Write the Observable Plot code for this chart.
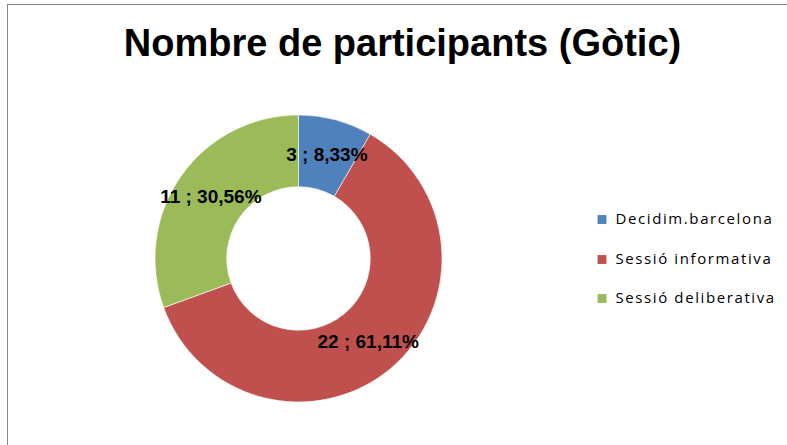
<!DOCTYPE html>
<html>
<head>
<meta charset="utf-8">
<script src="https://cdn.jsdelivr.net/npm/d3@7"></script>
<script src="https://cdn.jsdelivr.net/npm/@observablehq/plot@0.6"></script>
<style>
  html, body { margin: 0; padding: 0; background: #fff; width: 787px; height: 445px; overflow: hidden; }
  #frame { position: absolute; left: 7px; top: 3.5px; width: 800px; height: 460px;
           border-left: 1.5px solid #898989; border-top: 1.5px solid #898989; box-sizing: border-box; }
  #chart { position: absolute; left: 0; top: 0; }
  .legend-text text { letter-spacing: 1.6px; }
</style>
</head>
<body>
<div id="frame"></div>
<div id="chart"></div>
<script>
const title = "Nombre de participants (Gòtic)";
const categories = ["Decidim.barcelona", "Sessió informativa", "Sessió deliberativa"];
const values = [3, 22, 11];
const percentLabels = ["8,33%", "61,11%", "30,56%"];
const colors = ["#4F81BD", "#C0504D", "#9BBB59"];

const innerRatio = 0.5;
const data = categories.map((c, i) => ({category: c, value: values[i], pct: percentLabels[i], color: colors[i]}));
const arcs = d3.pie().sort(null).value(d => d.value)(data);
const midR = (1 + innerRatio) / 2;
const labels = arcs.map(a => {
  const ang = (a.startAngle + a.endAngle) / 2;
  return {x: midR * Math.sin(ang), y: midR * Math.cos(ang), text: `${a.data.value} ; ${a.data.pct}`};
});

const cx = 298.5, cy = 258.5, R = 143.5;

function donut(index, scales) {
  const x0 = scales.x(0), y0 = scales.y(0);
  const r = Math.abs(scales.x(1) - scales.x(0));
  const g = d3.create("svg:g").attr("transform", `translate(${x0},${y0})`);
  const arc = d3.arc().innerRadius(r * innerRatio).outerRadius(r);
  g.selectAll("path").data(arcs).join("path")
    .attr("d", arc)
    .attr("fill", d => d.data.color)
    .attr("stroke", "#fff")
    .attr("stroke-width", 0.6);
  return g.node();
}

const legendY = [219, 259, 298];
const legendMarks = data.flatMap((d, i) => [
  Plot.dot([d], {
    frameAnchor: "top-left", dx: 601.5, dy: legendY[i],
    symbol: "square", r: 5, fill: "color", stroke: null
  }),
  Plot.text([d], {
    frameAnchor: "top-left", dx: 615, dy: legendY[i], text: "category",
    textAnchor: "start", lineAnchor: "middle", className: "legend-text",
    fontFamily: "Open Sans, sans-serif", fontSize: 15, fill: "#000"
  })
]);

const plot = Plot.plot({
  width: 787,
  height: 445,
  margin: 0,
  x: {domain: [-1, 1], range: [cx - R, cx + R], axis: null},
  y: {domain: [-1, 1], range: [cy + R, cy - R], axis: null},
  style: {background: "transparent", overflow: "visible"},
  marks: [
    donut,
    Plot.text(labels, {
      x: "x", y: "y", text: "text",
      fontFamily: "Liberation Sans, Arial, sans-serif",
      fontWeight: "bold", fontSize: 19, fill: "#000"
    }),
    Plot.text([title], {
      frameAnchor: "top", dx: 8.5, dy: 43, text: d => d,
      fontFamily: "Liberation Sans, Arial, sans-serif",
      fontWeight: "bold", fontSize: 38, fill: "#000", lineAnchor: "middle"
    }),
    ...legendMarks
  ]
});

document.getElementById("chart").appendChild(plot);
</script>
</body>
</html>
